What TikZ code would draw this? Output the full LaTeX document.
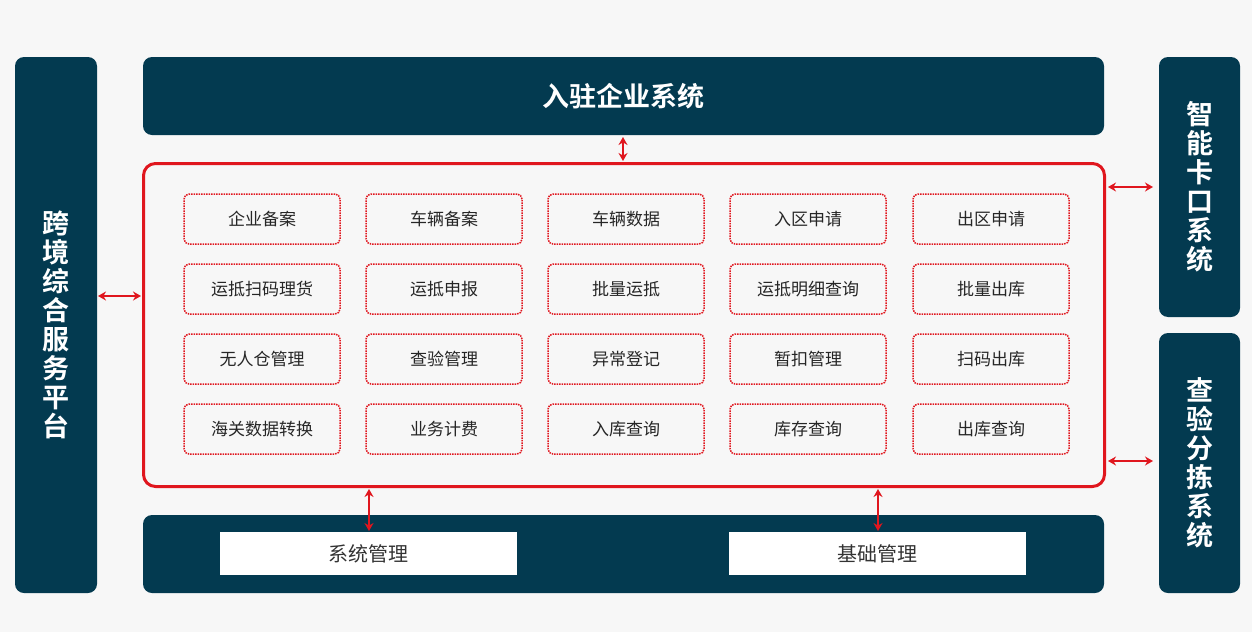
\documentclass[tikz,border=0pt]{standalone}
\usepackage{fontspec}
\setmainfont{Noto Sans CJK SC}
\newfontfamily\cjkb{Noto Sans CJK SC Bold}
\usetikzlibrary{arrows.meta}
\definecolor{navy}{HTML}{033A50}
\definecolor{bg}{HTML}{F7F7F7}
\definecolor{rd}{HTML}{E0161E}
\tikzset{
 bar/.style={fill=navy,rounded corners=9pt,draw=none},
 mod/.style={draw=rd,densely dotted,line width=1.5pt,rounded corners=5pt,minimum width=156pt,minimum height=50pt,font=\fontsize{17}{20}\selectfont,text=black!85},
 wbox/.style={fill=white,minimum width=297pt,minimum height=43pt,font=\fontsize{20}{24}\selectfont,text=black!80},
 dbl/.style={rd,line width=2.5pt,{Stealth[length=8pt,width=9pt]}-{Stealth[length=8pt,width=9pt]}},
 vt/.style={text=white,font=\cjkb\fontsize{27}{33}\selectfont,align=center}
}
\begin{document}
\begin{tikzpicture}[x=1pt,y=-1pt]
\fill[bg] (0,0) rectangle (1252,632);
\useasboundingbox (0,0) rectangle (1252,632);
\node[bar,minimum width=82pt,minimum height=536pt] (left) at (56,325) {};
\node[vt] at (left) {跨\\[-4pt]境\\[-4pt]综\\[-4pt]合\\[-4pt]服\\[-4pt]务\\[-4pt]平\\[-4pt]台};
\node[bar,minimum width=961pt,minimum height=78pt] (top) at (623.5,96) {};
\node[text=white,font=\cjkb\fontsize{27}{33}\selectfont] at (top) {入驻企业系统};
\node[bar,minimum width=81pt,minimum height=260pt] (rt) at (1199.5,187) {};
\node[vt] at (rt) {智\\[-4pt]能\\[-4pt]卡\\[-4pt]口\\[-4pt]系\\[-4pt]统};
\node[bar,minimum width=81pt,minimum height=260pt] (rb) at (1199.5,463) {};
\node[vt] at (rb) {查\\[-4pt]验\\[-4pt]分\\[-4pt]拣\\[-4pt]系\\[-4pt]统};
\node[bar,minimum width=961pt,minimum height=78pt] (bot) at (623.5,554) {};
\node[wbox] (sys) at (368.5,553.5) {系统管理};
\node[wbox] (base) at (877.5,553.5) {基础管理};
\node[draw=rd,line width=3pt,rounded corners=12pt,minimum width=961pt,minimum height=323pt] (core) at (624,325) {};
\foreach \r/\y/\a/\b/\c/\d/\e in {
 1/219/企业备案/车辆备案/车辆数据/入区申请/出区申请,
 2/289/运抵扫码理货/运抵申报/批量运抵/运抵明细查询/批量出库,
 3/359/无人仓管理/查验管理/异常登记/暂扣管理/扫码出库,
 4/429/海关数据转换/业务计费/入库查询/库存查询/出库查询}{
 \node[mod] (m\r a) at (262,\y) {\a};
 \node[mod] (m\r b) at (444,\y) {\b};
 \node[mod] (m\r c) at (626,\y) {\c};
 \node[mod] (m\r d) at (808,\y) {\d};
 \node[mod] (m\r e) at (991,\y) {\e};
}
\coordinate (t1) at (623,137); \coordinate (t2) at (623,161);
\draw[dbl] (t1) -- (t2);
\coordinate (l1) at (98,296); \coordinate (l2) at (141,296);
\draw[dbl] (l1) -- (l2);
\coordinate (r1) at (1108,187); \coordinate (r2) at (1153,187);
\draw[dbl] (r1) -- (r2);
\coordinate (r3) at (1108,461); \coordinate (r4) at (1153,461);
\draw[dbl] (r3) -- (r4);
\coordinate (b1) at (369,489); \coordinate (b2) at (369,531);
\draw[dbl] (b1) -- (b2);
\coordinate (b3) at (878,489); \coordinate (b4) at (878,531);
\draw[dbl] (b3) -- (b4);
\end{tikzpicture}
\end{document}
